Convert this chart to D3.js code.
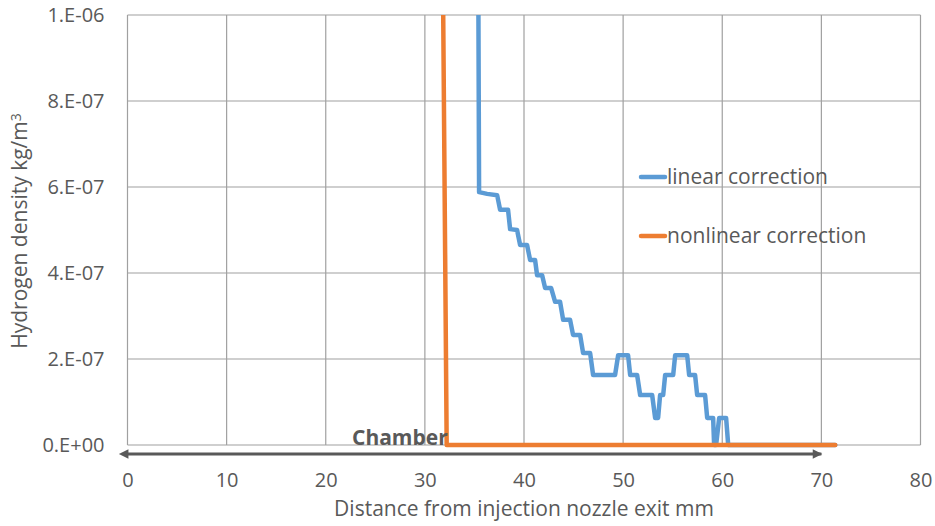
<!DOCTYPE html>
<html>
<head>
<meta charset="utf-8">
<script src="https://cdn.jsdelivr.net/npm/d3@7"></script>
<style>
  html, body { margin: 0; padding: 0; background: #fff; }
  svg { display: block; font-family: "Open Sans", "Noto Sans", sans-serif; }
</style>
</head>
<body>
<svg id="chart" width="935" height="526"></svg>
<script>
// Axis ticks
const xTicks = [0, 10, 20, 30, 40, 50, 60, 70, 80];
const yTicks = [0, 2e-7, 4e-7, 6e-7, 8e-7, 1e-6];
const yTickLabels = ["0.E+00", "2.E-07", "4.E-07", "6.E-07", "8.E-07", "1.E-06"];

// Distance from nozzle exit (mm) and hydrogen density (kg/m^3), linear correction
const linearX = [35.37, 35.47, 36.28, 37.29, 37.59, 38.39, 38.60, 39.30, 39.61, 40.31,
  40.62, 41.12, 41.32, 41.83, 42.13, 42.74, 43.14, 43.64, 43.95, 44.65,
  44.95, 45.66, 45.96, 46.67, 46.97, 49.19, 49.50, 50.50, 50.71, 51.41,
  51.72, 52.93, 53.23, 53.53, 53.73, 54.04, 54.24, 55.05, 55.25, 56.46,
  56.66, 57.26, 57.47, 58.27, 58.48, 59.08, 59.18, 59.38, 59.69, 60.39,
  60.60, 71.40];
const linearY = [1.2e-6, 5.88e-7, 5.84e-7, 5.81e-7, 5.47e-7, 5.47e-7, 5.02e-7, 5.0e-7, 4.65e-7, 4.65e-7,
  4.30e-7, 4.30e-7, 3.95e-7, 3.95e-7, 3.65e-7, 3.65e-7, 3.33e-7, 3.33e-7, 2.91e-7, 2.91e-7,
  2.56e-7, 2.56e-7, 2.14e-7, 2.14e-7, 1.63e-7, 1.63e-7, 2.09e-7, 2.09e-7, 1.63e-7, 1.63e-7,
  1.16e-7, 1.16e-7, 0.63e-7, 0.63e-7, 1.16e-7, 1.16e-7, 1.63e-7, 1.63e-7, 2.09e-7, 2.09e-7,
  1.63e-7, 1.63e-7, 1.16e-7, 1.16e-7, 0.63e-7, 0.63e-7, 0, 0, 0.63e-7, 0.63e-7,
  0, 0];

// Nonlinear correction
const nonlinearX = [31.85, 32.20, 71.40];
const nonlinearY = [1.0e-6, 0, 0];

const seriesNames = ["linear correction", "nonlinear correction"];
const seriesColors = ["#5B9BD5", "#ED7D31"];

const chamberLabel = "Chamber";
const chamberRange = [0, 70];
const xTitle = "Distance from injection nozzle exit mm";

const W = 935, H = 526;
const margin = { left: 127.5, right: 14.5, top: 15, bottom: 81 };
const svg = d3.select("#chart");

const x = d3.scaleLinear().domain([0, 80]).range([margin.left, W - margin.right]);
const y = d3.scaleLinear().domain([0, 1e-6]).range([H - margin.bottom, margin.top]);

const textColor = "#595959";
const gridColor = "#a0a0a0";
const fontSize = "21px";

// Gridlines
svg.append("g")
  .selectAll("line.vx")
  .data(xTicks)
  .join("line")
  .attr("x1", d => x(d)).attr("x2", d => x(d))
  .attr("y1", y(0)).attr("y2", y(1e-6))
  .attr("stroke", gridColor).attr("stroke-width", 1.2);

svg.append("g")
  .selectAll("line.hy")
  .data(yTicks)
  .join("line")
  .attr("x1", x(0)).attr("x2", x(80))
  .attr("y1", d => y(d)).attr("y2", d => y(d))
  .attr("stroke", gridColor).attr("stroke-width", 1.2);

// Axes (labels only)
const xAxis = svg.append("g")
  .attr("transform", `translate(0,${y(0)})`)
  .call(d3.axisBottom(x).tickValues(xTicks).tickSize(0).tickPadding(28).tickFormat(d3.format("d")));
const yAxis = svg.append("g")
  .attr("transform", `translate(${x(0)},0)`)
  .call(d3.axisLeft(y).tickValues(yTicks).tickSize(0).tickPadding(23)
    .tickFormat((d, i) => yTickLabels[i]));
[xAxis, yAxis].forEach(g => {
  g.select(".domain").remove();
  g.selectAll("text").attr("fill", textColor).style("font-size", "20px")
    .style("font-family", "'Open Sans', 'Noto Sans', sans-serif");
});

// Series lines
svg.append("clipPath").attr("id", "plotClip")
  .append("rect")
  .attr("x", x(0)).attr("y", y(1e-6))
  .attr("width", x(80) - x(0)).attr("height", y(0) - y(1e-6) + 4);

const line = d3.line().x(d => x(d[0])).y(d => y(d[1]));
const linearPts = linearX.map((v, i) => [v, linearY[i]]);
const nonlinearPts = nonlinearX.map((v, i) => [v, nonlinearY[i]]);

const plot = svg.append("g").attr("clip-path", "url(#plotClip)");
plot.append("path").datum(linearPts)
  .attr("d", line).attr("fill", "none")
  .attr("stroke", seriesColors[0]).attr("stroke-width", 4.5)
  .attr("stroke-linejoin", "round").attr("stroke-linecap", "round");
plot.append("path").datum(nonlinearPts)
  .attr("d", line).attr("fill", "none")
  .attr("stroke", seriesColors[1]).attr("stroke-width", 4.5)
  .attr("stroke-linejoin", "round").attr("stroke-linecap", "round");

// Legend
const legend = svg.append("g");
const legendY = [177, 236];
seriesNames.forEach((name, i) => {
  legend.append("line")
    .attr("x1", 641).attr("x2", 665)
    .attr("y1", legendY[i]).attr("y2", legendY[i])
    .attr("stroke", seriesColors[i]).attr("stroke-width", 4.5)
    .attr("stroke-linecap", "round");
  legend.append("text")
    .attr("x", 667).attr("y", legendY[i])
    .attr("dy", "0.35em")
    .attr("fill", textColor)
    .style("font-size", fontSize)
    .text(name);
});

// Chamber extent arrow
const arrowY = y(0) + 9;
const defs = svg.append("defs");
["start", "end"].forEach(k => {
  defs.append("marker")
    .attr("id", "arrow-" + k)
    .attr("viewBox", "0 0 10 10")
    .attr("refX", k === "end" ? 9 : 1).attr("refY", 5)
    .attr("markerWidth", 4.2).attr("markerHeight", 3.2)
    .attr("orient", "auto-start-reverse")
    .attr("markerUnits", "strokeWidth")
    .append("path")
    .attr("d", "M0,0 L10,5 L0,10 Z")
    .attr("fill", textColor);
});
svg.append("line")
  .attr("x1", x(chamberRange[0])).attr("x2", x(chamberRange[1]))
  .attr("y1", arrowY).attr("y2", arrowY)
  .attr("stroke", textColor).attr("stroke-width", 3)
  .attr("marker-start", "url(#arrow-start)")
  .attr("marker-end", "url(#arrow-end)");

svg.append("text")
  .attr("x", 352).attr("y", 445)
  .attr("fill", textColor)
  .style("font-size", fontSize).style("font-weight", "bold")
  .text(chamberLabel);

// Axis titles
svg.append("text")
  .attr("x", (x(0) + x(80)) / 2).attr("y", 516)
  .attr("text-anchor", "middle")
  .attr("fill", textColor)
  .style("font-size", fontSize)
  .text(xTitle);

const yTitle = svg.append("text")
  .attr("transform", `translate(27,${(y(0) + y(1e-6)) / 2 + 1}) rotate(-90)`)
  .attr("text-anchor", "middle")
  .attr("fill", textColor)
  .style("font-size", fontSize);
yTitle.append("tspan").text("Hydrogen density kg/m");
yTitle.append("tspan").attr("dy", "-0.45em").style("font-size", "14px").text("3");
</script>
</body>
</html>
